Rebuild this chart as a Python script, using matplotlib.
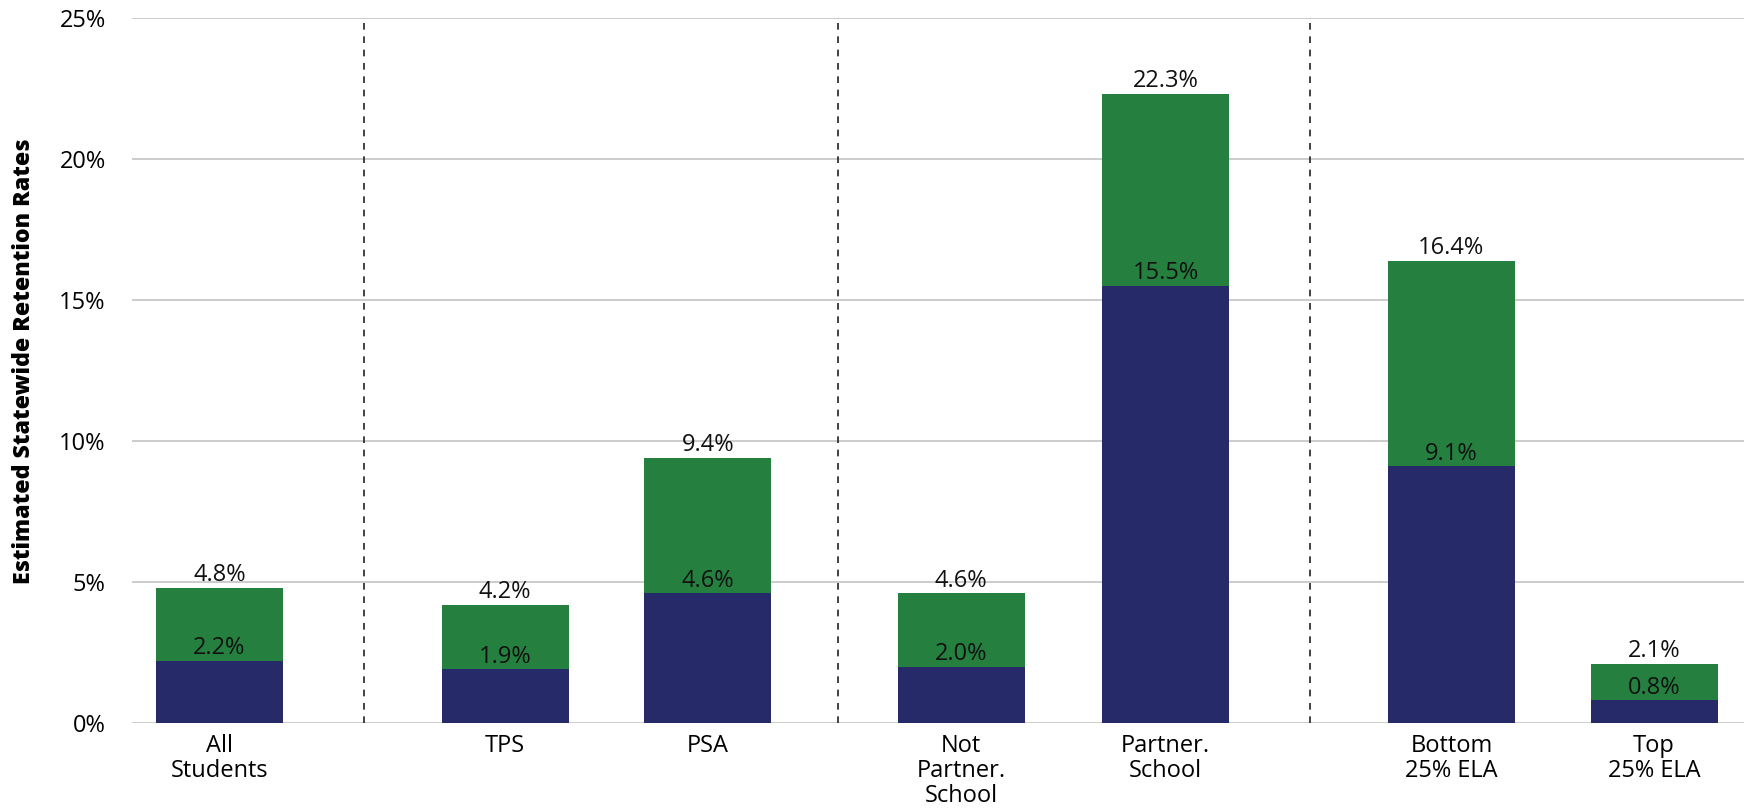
import matplotlib
matplotlib.use("Agg")
import matplotlib.pyplot as plt
from matplotlib.ticker import FuncFormatter

plt.rcParams['font.family'] = ['Open Sans', 'DejaVu Sans']

# Data
categories = ["All\nStudents", "TPS", "PSA", "Not\nPartner.\nSchool",
              "Partner.\nSchool", "Bottom\n25% ELA", "Top\n25% ELA"]
total_rate = [4.8, 4.2, 9.4, 4.6, 22.3, 16.4, 2.1]
base_rate = [2.2, 1.9, 4.6, 2.0, 15.5, 9.1, 0.8]
y_ticks = [0, 5, 10, 15, 20, 25]

# Layout: grouped positions with wider gaps between groups
positions = [0.0, 1.41, 2.41, 3.66, 4.67, 6.08, 7.08]
separators = [0.715, 3.05, 5.38]
bar_width = 0.627

GREEN = "#25803F"
NAVY = "#262A68"
GRID = "#C8C8C8"

fig = plt.figure(figsize=(17.44, 8.11), dpi=100)
ax = fig.add_axes([0.0757, 0.1085, 0.9243, 0.8693])

ax.bar(positions, total_rate, width=bar_width, color=GREEN, zorder=2)
ax.bar(positions, base_rate, width=bar_width, color=NAVY, zorder=3)

for x, t, b in zip(positions, total_rate, base_rate):
    ax.annotate(f"{t:.1f}%", (x, t), xytext=(0, 0.5), textcoords="offset points",
                ha="center", va="bottom", fontsize=17, color="#111111", zorder=4)
    ax.annotate(f"{b:.1f}%", (x, b), xytext=(0, 0.5), textcoords="offset points",
                ha="center", va="bottom", fontsize=17, color="#111111", zorder=4)

for s in separators:
    ax.plot([s, s], [0, 25], color="#222222", linestyle=(0, (4, 4)),
            linewidth=1.2, zorder=1)

ax.set_xlim(positions[0] - 0.432, positions[-1] + 0.444)
ax.set_ylim(0, 25)
ax.set_yticks(y_ticks)
ax.yaxis.set_major_formatter(FuncFormatter(lambda v, _: f"{v:.0f}%"))
ax.yaxis.grid(True, color=GRID, linewidth=1.3, zorder=0)
ax.set_axisbelow(True)
ax.set_xticks(positions)
ax.set_xticklabels(categories, fontsize=17, linespacing=1.05)
ax.tick_params(axis="x", length=0, pad=8)
ax.tick_params(axis="y", length=0, pad=19, labelsize=17)
for sp in ax.spines.values():
    sp.set_visible(False)

fig.text(0.014, 0.554, "Estimated Statewide Retention Rates",
         rotation=90, ha="center", va="center", fontsize=16.7, fontweight="heavy")

fig.savefig("out.png", dpi=100)
